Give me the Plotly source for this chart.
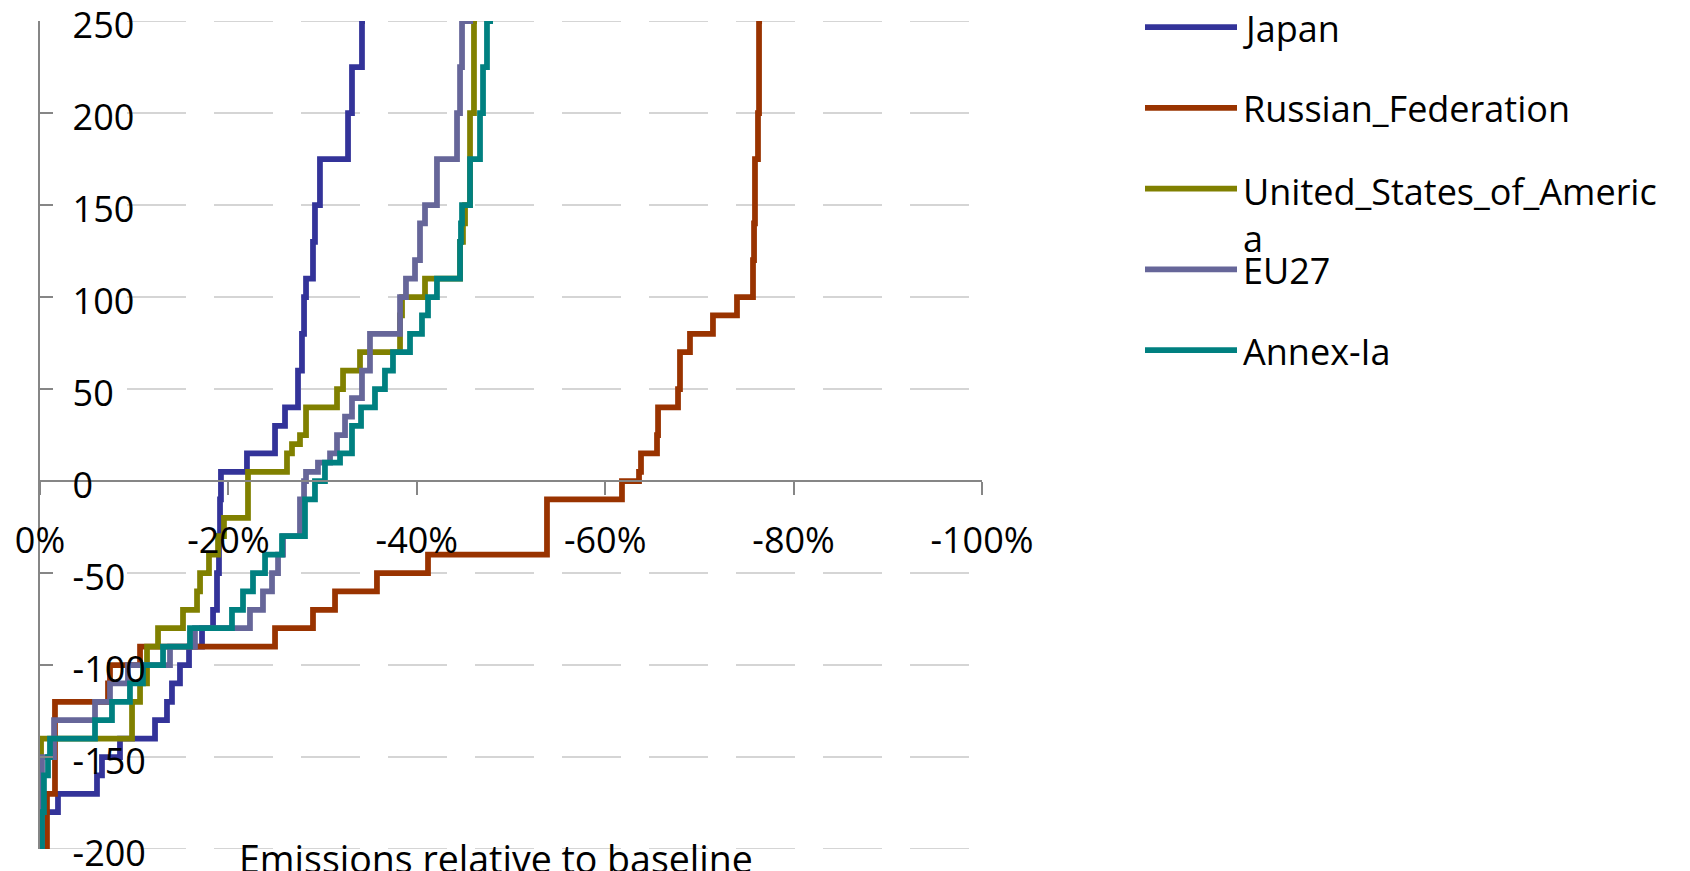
import plotly.graph_objects as go

# Carbon price levels (y) and the cumulative emission reduction relative to
# baseline reached at that price (x, in percent; negative = reduction).
japan_price = [-200, -180, -170, -160, -150, -140, -130, -120, -110, -100,
               -90, -80, -70, -50, -30, -10, 5, 15, 30, 40,
               60, 80, 100, 110, 130, 150, 175, 200, 225, 250]
japan_reduction = [-0.53, -1.91, -6.05, -6.58, -8.49, -12.21, -13.48, -14.01, -14.86, -15.82,
                   -17.20, -18.37, -18.79, -19.00, -19.11, -19.21, -21.97, -24.95, -26.01, -27.39,
                   -27.81, -28.03, -28.24, -28.98, -29.19, -29.72, -32.70, -33.12, -34.18, -34.50]

russia_price = [-200, -170, -120, -110, -100, -90, -80, -70, -60, -50,
                -40, -10, 0, 5, 15, 25, 40, 50, 70, 80,
                90, 100, 120, 140, 175, 200, 250]
russia_reduction = [-0.74, -1.59, -7.22, -7.43, -10.62, -24.95, -28.98, -31.32, -35.77, -41.19,
                    -53.82, -61.78, -63.59, -63.80, -65.50, -65.61, -67.73, -67.94, -69.00, -71.44,
                    -73.99, -75.69, -75.80, -75.90, -76.22, -76.33, -76.65]

usa_price = [-200, -140, -120, -110, -90, -80, -70, -60, -50, -40,
             -30, -20, 5, 15, 20, 25, 40, 50, 60, 70,
             90, 100, 110, 130, 140, 150, 200, 250]
usa_reduction = [-0.11, -9.77, -10.62, -11.36, -12.53, -15.18, -16.67, -16.99, -17.94, -18.90,
                 -19.53, -22.08, -26.22, -26.75, -27.60, -28.24, -31.53, -32.17, -33.97, -38.22,
                 -38.43, -40.87, -44.59, -44.90, -45.12, -45.65, -46.07, -46.39]

eu27_price = [-200, -150, -130, -120, -110, -100, -90, -80, -70, -60,
              -50, -40, -30, -10, 0, 5, 10, 15, 25, 35,
              45, 60, 80, 100, 110, 120, 140, 150, 175, 200,
              225, 250]
eu27_reduction = [-0.21, -1.49, -5.84, -7.43, -9.34, -13.80, -16.45, -22.29, -23.67, -24.63,
                  -25.27, -25.80, -27.60, -28.03, -28.24, -29.51, -30.79, -31.53, -32.38, -33.12,
                  -34.18, -35.03, -38.22, -38.85, -39.81, -40.34, -40.87, -42.14, -44.27, -44.59,
                  -44.80, -45.97]

annex_price = [-200, -180, -160, -150, -140, -130, -120, -110, -100, -90,
               -80, -70, -60, -50, -40, -30, -10, 0, 10, 15,
               30, 40, 50, 60, 70, 80, 90, 100, 110, 130,
               140, 150, 175, 200, 225, 250]
annex_reduction = [-0.21, -0.42, -0.85, -1.06, -5.84, -7.64, -9.55, -10.93, -13.06, -15.92,
                   -20.38, -21.55, -22.61, -23.89, -25.69, -28.13, -29.19, -30.25, -31.85, -33.12,
                   -34.08, -35.56, -36.62, -37.47, -39.28, -40.55, -41.19, -42.14, -44.59, -44.69,
                   -44.80, -45.65, -46.71, -47.03, -47.45, -48.09]

series_names = ["Japan", "Russian_Federation", "United_States_of_America", "EU27", "Annex-Ia"]
series_colors = ["#333399", "#993300", "#808000", "#666699", "#008080"]

x_tick_values = [0, -20, -40, -60, -80, -100]
x_tick_labels = ["0%", "-20%", "-40%", "-60%", "-80%", "-100%"]
y_tick_values = [250, 200, 150, 100, 50, 0, -50, -100, -150, -200]
y_tick_labels = ["250", "200", "150", "100", "50", "0", "-50", "-100", "-150", "-200"]

x_title = "Emissions relative to baseline"

# ---------------------------------------------------------------- layout ---
W, H = 1690, 871
ML, MR, MT, MB = 40, 708, 21, 22
PW, PH = W - ML - MR, H - MT - MB
FONT = "Open Sans"
AXIS_GREY = "#868686"
GRID_GREY = "#c8c8c8"
LINE_W = 5.75


def px_to_paper_x(px):
    return (px - ML) / PW


def px_to_paper_y(py):
    return (H - MB - py) / PH


fig = go.Figure()

curves = [
    (japan_price, japan_reduction),
    (russia_price, russia_reduction),
    (usa_price, usa_reduction),
    (eu27_price, eu27_reduction),
    (annex_price, annex_reduction),
]
for name, color, (price, reduction) in zip(series_names, series_colors, curves):
    fig.add_trace(go.Scatter(
        x=reduction, y=price, mode="lines", name=name, showlegend=False,
        line=dict(color=color, width=LINE_W, shape="vh"),
    ))

y_min, y_max = -200, 250

fig.update_xaxes(
    range=[0, -100],
    tickmode="array", tickvals=x_tick_values, ticktext=x_tick_labels,
    anchor="free", position=(0 - y_min) / (y_max - y_min),
    showline=True, linecolor=AXIS_GREY, linewidth=1.5,
    ticks="outside", ticklen=13, tickwidth=1.5, tickcolor=AXIS_GREY,
    ticklabelstandoff=15,
    showgrid=False, zeroline=False,
    tickfont=dict(family=FONT, size=36, color="black"),
)
fig.update_yaxes(
    range=[y_min, y_max],
    tickmode="array", tickvals=y_tick_values, ticktext=y_tick_labels,
    showline=True, linecolor=AXIS_GREY, linewidth=1.5,
    ticks="inside", ticklen=13, tickwidth=1.5, tickcolor=AXIS_GREY,
    ticklabelposition="inside", ticklabeloverflow="allow",
    ticklabelstandoff=24, ticklabelshift=4,
    showgrid=False, zeroline=False,
    tickfont=dict(family=FONT, size=36, color="black"),
)

shapes, annotations = [], []

# dashed horizontal grid at the price ticks; it starts to the right of the
# value labels, except on the bottom line of the frame
label_clear = px_to_paper_x(127)
for v in y_tick_values:
    if v == 0:
        continue  # the reduction axis runs along this line
    shapes.append(dict(
        type="line", xref="x domain", yref="y", layer="below",
        x0=0 if v == y_min else label_clear, x1=1, y0=v, y1=v,
        line=dict(color=GRID_GREY, width=1.5, dash="59px,28px"),
    ))

# legend drawn at the right: line sample + label for each series
for i, (name, color) in enumerate(zip(series_names, series_colors)):
    cy = 27 + i * 80.8
    shapes.append(dict(
        type="line", xref="paper", yref="paper",
        x0=px_to_paper_x(1145), x1=px_to_paper_x(1237),
        y0=px_to_paper_y(cy), y1=px_to_paper_y(cy),
        line=dict(color=color, width=LINE_W),
    ))
    label = name if len(name) <= 23 else name[:23] + "<br>" + name[23:]
    wrapped = "<br>" in label
    annotations.append(dict(
        text=label, xref="paper", yref="paper",
        x=px_to_paper_x(1241), xanchor="left",
        y=px_to_paper_y(cy - 24 if wrapped else cy + 1),
        yanchor="top" if wrapped else "middle",
        align="left", showarrow=False,
        font=dict(family=FONT, size=36, color="black"),
    ))

annotations.append(dict(
    text=x_title, xref="paper", yref="paper",
    x=px_to_paper_x(496), xanchor="center",
    y=px_to_paper_y(858), yanchor="middle",
    showarrow=False, font=dict(family=FONT, size=37.5, color="black"),
))

fig.update_layout(
    width=W, height=H,
    margin=dict(l=ML, r=MR, t=MT, b=MB, autoexpand=False),
    paper_bgcolor="white", plot_bgcolor="white",
    font=dict(family=FONT, size=36, color="black"),
    shapes=shapes, annotations=annotations,
    showlegend=False,
)

fig.write_html("out.html")
